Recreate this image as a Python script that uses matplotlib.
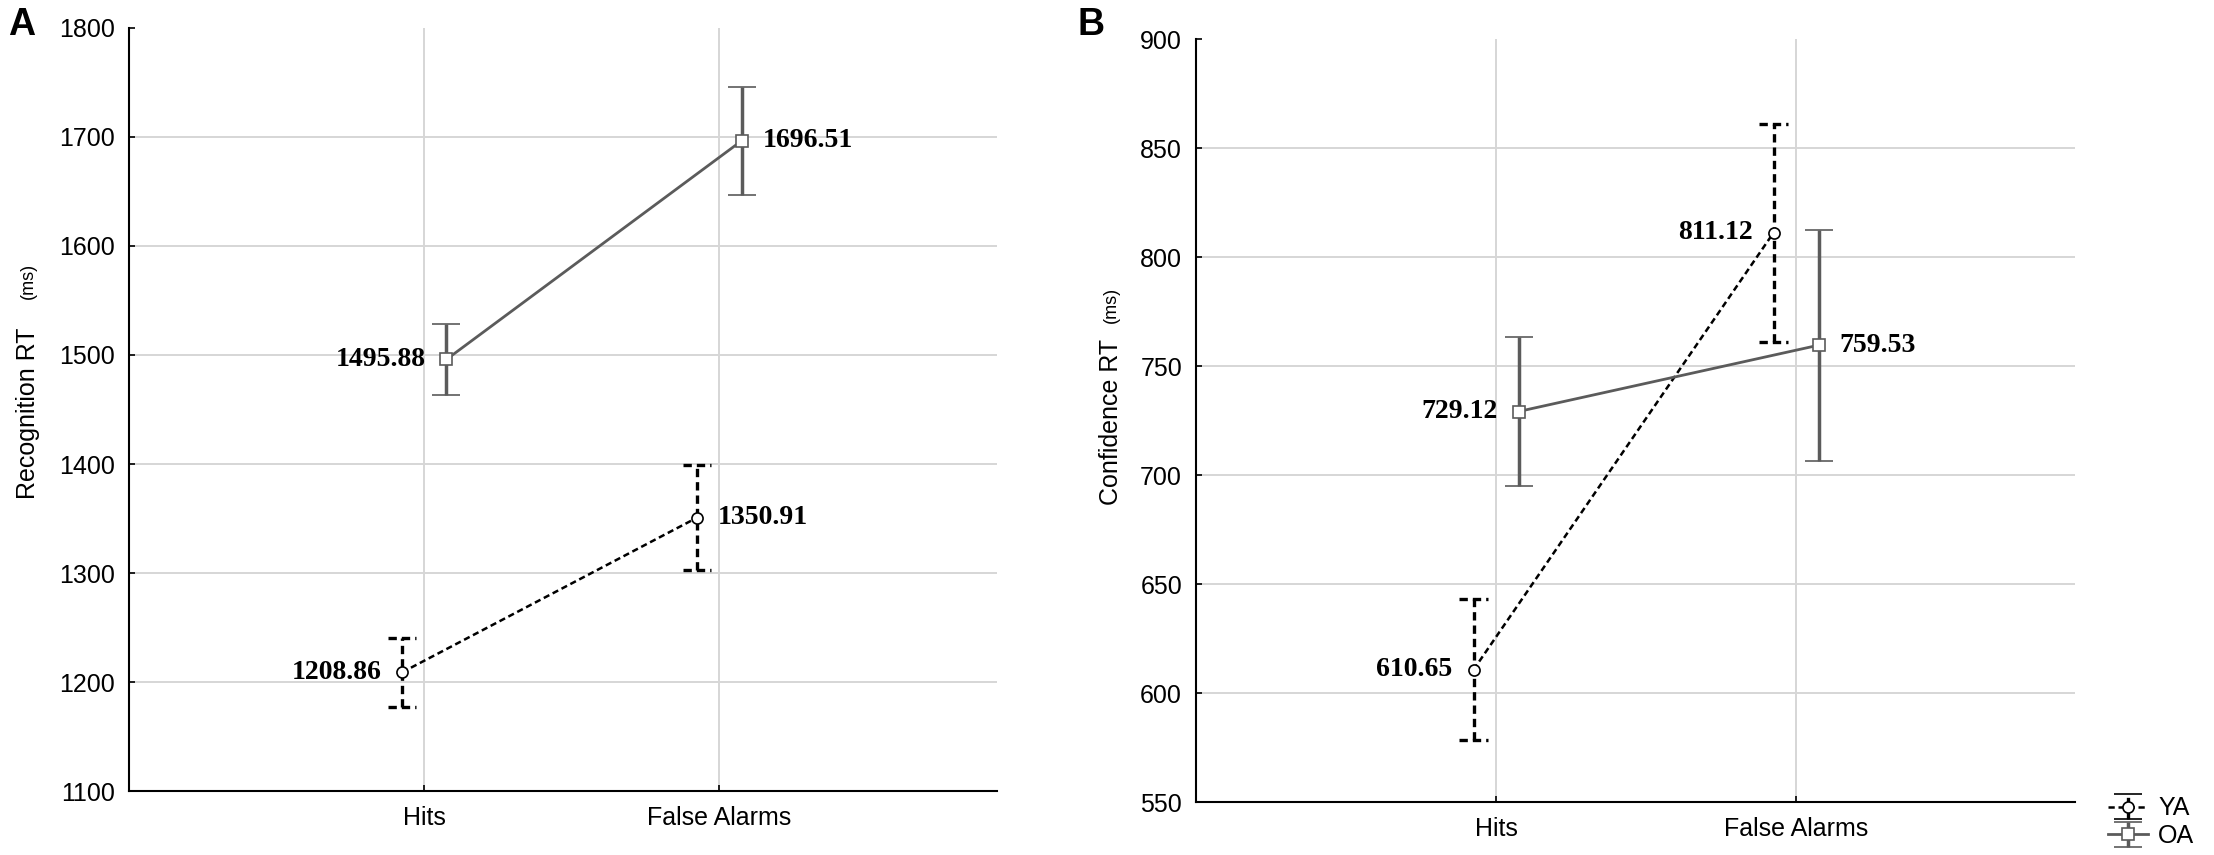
import numpy as np
import matplotlib
matplotlib.use("Agg")
import matplotlib.pyplot as plt

plt.rcParams['font.family'] = ['Liberation Sans', 'DejaVu Sans']

# categories
conds = ["Hits", "False Alarms"]
groups = ["YA", "OA"]

# panel A - recognition RT (ms), means and error bar half widths
rec_ya = [1208.86, 1350.91]
rec_ya_err = [31.5, 48.0]
rec_oa = [1495.88, 1696.51]
rec_oa_err = [32.3, 49.5]

# panel B - confidence RT (ms)
conf_ya = [610.65, 811.12]
conf_ya_err = [32.3, 50.0]
conf_oa = [729.12, 759.53]
conf_oa_err = [34.0, 53.0]

W, H = 2214, 855
fig = plt.figure(figsize=(W / 100, H / 100), dpi=100)

gray = "#5b5b5b"
dash = (0, (2.5, 1.5))
off = 0.075
cw = 0.047


def px(x0, y0, x1, y1):
    # pixel box -> figure coords
    return [x0 / W, 1 - y1 / H, (x1 - x0) / W, (y1 - y0) / H]


def panel(ax, ya, ya_err, oa, oa_err, ylim, yticks, sides_ya, sides_oa, xmax):
    x = np.arange(1, len(conds) + 1)

    eb_ya = ax.errorbar(x - off, ya, yerr=ya_err, color="black", ls=dash, lw=1.8,
                        marker="o", ms=8, mfc="white", mec="black", mew=1.2,
                        ecolor="black", elinewidth=2.4, capsize=10, capthick=2.4,
                        zorder=3)
    eb_ya[2][0].set_linestyle(dash)
    eb_oa = ax.errorbar(x + off, oa, yerr=oa_err, color=gray, ls="-", lw=2.0,
                        marker="s", ms=8.5, mfc="white", mec=gray, mew=1.2,
                        ecolor=gray, elinewidth=2.5, capsize=10, capthick=2.5,
                        zorder=3)

    for xs, vals, sides in [(x - off, ya, sides_ya), (x + off, oa, sides_oa)]:
        for xi, v, s in zip(xs, vals, sides):
            dx = -15 if s == "left" else 15
            ax.annotate(f"{v:.2f}", (xi, v), xytext=(dx, 0), textcoords="offset points",
                        ha="right" if s == "left" else "left", va="center",
                        fontsize=20, fontweight="bold", family="Liberation Serif",
                        zorder=4)

    ax.set_xlim(0, xmax)
    ax.set_ylim(*ylim)
    ax.set_yticks(yticks)
    ax.set_xticks(x, conds)
    ax.grid(True, color="#d6d6d6", lw=1.4)
    ax.yaxis.get_gridlines()[-1].set_visible(False)
    ax.set_axisbelow(True)
    for sp in ["top", "right"]:
        ax.spines[sp].set_visible(False)
    for sp in ["left", "bottom"]:
        ax.spines[sp].set_linewidth(1.5)
    ax.tick_params(direction="in", length=4, width=1.2, labelsize=18, pad=10)
    ax.tick_params(axis="x", pad=11)
    return eb_ya, eb_oa


axA = fig.add_axes(px(129, 28, 997, 791))
ebA_ya, ebA_oa = panel(axA, rec_ya, rec_ya_err, rec_oa, rec_oa_err, (1100, 1800),
                       np.arange(1100, 1801, 100), ["left", "right"], ["left", "right"], 2.94)

axB = fig.add_axes(px(1196, 39, 2075, 802))
ebB_ya, ebB_oa = panel(axB, conf_ya, conf_ya_err, conf_oa, conf_oa_err, (550, 900),
                       np.arange(550, 901, 50), ["left", "left"], ["left", "right"], 2.93)

# y labels with small unit text
fig.text(28 / W, 1 - 413 / H, "Recognition RT", rotation=90, ha="center", va="center", fontsize=18)
fig.text(28 / W, 1 - 281 / H, "(ms)", rotation=90, ha="center", va="center", fontsize=13)
fig.text(1111 / W, 1 - 422 / H, "Confidence RT", rotation=90, ha="center", va="center", fontsize=18)
fig.text(1111 / W, 1 - 305 / H, "(ms)", rotation=90, ha="center", va="center", fontsize=13)

# panel letters
fig.text(8 / W, 1 - 35 / H, "A", fontsize=27, fontweight="bold", va="baseline")
fig.text(1078 / W, 1 - 35 / H, "B", fontsize=27, fontweight="bold", va="baseline")

fig.legend([ebB_ya, ebB_oa], groups, loc="lower left", bbox_to_anchor=(2108 / W, 0.008),
           frameon=False, fontsize=18, handlelength=1.6, handletextpad=0.4,
           labelspacing=0.15, borderaxespad=0, borderpad=0)

# dashed caps for the YA error bars (after the legend so it keeps its caps)
for ax, eb, vals, errs in [(axA, ebA_ya, rec_ya, rec_ya_err), (axB, ebB_ya, conf_ya, conf_ya_err)]:
    for cl in eb[1]:
        cl.set_visible(False)
    xs = np.arange(1, len(conds) + 1) - off
    v = np.array(vals)
    e = np.array(errs)
    for yy in (v - e, v + e):
        ax.hlines(yy, xs - cw, xs + cw, colors="black", linestyles=dash, lw=2.4, zorder=3)

fig.savefig("out.png", dpi=100)
